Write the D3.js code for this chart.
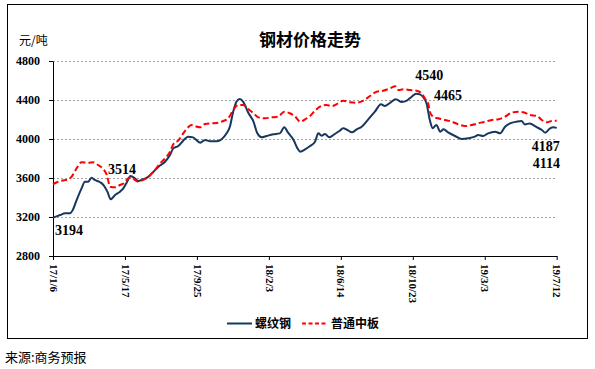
<!DOCTYPE html>
<html><head><meta charset="utf-8">
<script src="https://cdn.jsdelivr.net/npm/d3@7"></script>
<style>body{margin:0;background:#fff}svg{display:block}</style>
</head><body>
<svg id="c" width="595" height="369"></svg>
<script>
const rebarDates = ["2017-01-06","2017-01-19","2017-01-28","2017-02-06","2017-02-11","2017-02-18","2017-02-27","2017-03-05","2017-03-11","2017-03-17","2017-03-23","2017-04-02","2017-04-08","2017-04-15","2017-04-21","2017-04-29","2017-05-08","2017-05-14","2017-05-21","2017-05-27","2017-06-04","2017-06-10","2017-06-19","2017-06-27","2017-07-08","2017-07-17","2017-07-29","2017-08-07","2017-08-13","2017-08-22","2017-08-31","2017-09-09","2017-09-18","2017-10-01","2017-10-10","2017-10-19","2017-10-31","2017-11-09","2017-11-18","2017-11-24","2017-11-30","2017-12-06","2017-12-12","2017-12-18","2017-12-28","2018-01-06","2018-01-13","2018-01-21","2018-01-30","2018-02-11","2018-02-23","2018-03-03","2018-03-10","2018-03-20","2018-03-27","2018-04-01","2018-04-10","2018-04-19","2018-04-28","2018-05-04","2018-05-10","2018-05-16","2018-05-24","2018-06-03","2018-06-12","2018-06-18","2018-06-26","2018-07-04","2018-07-13","2018-07-22","2018-08-03","2018-08-15","2018-08-26","2018-09-02","2018-09-12","2018-09-22","2018-10-03","2018-10-12","2018-10-21","2018-10-29","2018-11-05","2018-11-11","2018-11-17","2018-11-23","2018-11-28","2018-12-05","2018-12-12","2018-12-18","2018-12-27","2019-01-08","2019-01-20","2019-02-01","2019-02-13","2019-02-19","2019-02-28","2019-03-09","2019-03-22","2019-03-31","2019-04-09","2019-04-18","2019-04-30","2019-05-09","2019-05-15","2019-05-24","2019-06-04","2019-06-15","2019-06-21","2019-06-30","2019-07-06","2019-07-12"];
const rebarValues = [3194,3220,3238,3238,3272,3374,3494,3562,3562,3603,3580,3556,3528,3460,3381,3426,3460,3494,3562,3620,3597,3569,3587,3607,3665,3716,3767,3836,3904,3928,3983,4024,4017,3962,3990,3976,3976,3997,4058,4126,4280,4383,4410,4383,4264,4178,4058,4017,4031,4048,4058,4120,4065,3990,3904,3870,3894,3928,3972,4058,4034,4051,4017,4051,4085,4110,4092,4068,4099,4126,4202,4280,4356,4338,4372,4407,4379,4393,4434,4465,4458,4428,4366,4195,4110,4143,4075,4099,4065,4031,4000,4007,4024,4041,4031,4058,4075,4058,4126,4160,4178,4185,4150,4160,4126,4092,4065,4110,4120,4114];

const plateDates = ["2017-01-06","2017-01-13","2017-01-22","2017-02-03","2017-02-09","2017-02-18","2017-02-27","2017-03-11","2017-03-20","2017-03-29","2017-04-08","2017-04-14","2017-04-20","2017-04-29","2017-05-08","2017-05-15","2017-05-23","2017-05-29","2017-06-04","2017-06-10","2017-06-19","2017-06-28","2017-07-08","2017-07-20","2017-07-31","2017-08-07","2017-08-14","2017-08-22","2017-08-31","2017-09-09","2017-09-15","2017-09-21","2017-10-01","2017-10-10","2017-10-22","2017-11-03","2017-11-12","2017-11-21","2017-11-30","2017-12-09","2017-12-18","2017-12-28","2018-01-06","2018-01-15","2018-01-27","2018-02-08","2018-02-20","2018-03-03","2018-03-13","2018-03-23","2018-04-01","2018-04-10","2018-04-19","2018-04-28","2018-05-07","2018-05-19","2018-05-28","2018-06-09","2018-06-18","2018-07-01","2018-07-13","2018-07-25","2018-08-06","2018-08-18","2018-08-30","2018-09-12","2018-09-21","2018-09-27","2018-10-06","2018-10-18","2018-10-30","2018-11-08","2018-11-14","2018-11-20","2018-11-23","2018-11-29","2018-12-08","2018-12-21","2019-01-02","2019-01-14","2019-01-26","2019-02-07","2019-02-19","2019-03-03","2019-03-16","2019-03-28","2019-04-09","2019-04-21","2019-05-03","2019-05-15","2019-05-24","2019-06-06","2019-06-15","2019-06-24","2019-07-03","2019-07-12"];
const plateValues = [3535,3556,3572,3587,3614,3699,3761,3757,3761,3733,3689,3631,3511,3504,3528,3546,3597,3607,3580,3562,3580,3607,3665,3750,3812,3870,3956,3983,4058,4120,4143,4133,4120,4154,4160,4167,4185,4212,4297,4349,4349,4305,4264,4222,4212,4222,4229,4280,4264,4229,4178,4202,4236,4290,4331,4349,4338,4366,4393,4376,4372,4393,4441,4485,4495,4520,4540,4502,4509,4502,4495,4468,4417,4366,4280,4229,4212,4195,4178,4150,4133,4143,4160,4178,4195,4202,4229,4270,4280,4270,4246,4236,4195,4171,4185,4187];

const yTicks = [2800,3200,3600,4000,4400,4800];
const xTickDates = ["2017-01-06","2017-05-17","2017-09-25","2018-02-03","2018-06-14","2018-10-23","2019-03-03","2019-07-12"];
const seriesNames = ["螺纹钢","普通中板"];
const annotations = [
  {series:0, date:"2017-01-06", text:"3194", dx:2, dy:17},
  {series:1, date:"2017-04-29", text:"3514", dx:-7, dy:-13},
  {series:1, date:"2018-09-21", text:"4540", dx:20, dy:-6},
  {series:0, date:"2018-10-29", text:"4465", dx:18, dy:6},
  {series:1, date:"2019-07-12", text:"4187", dx:-25, dy:30},
  {series:0, date:"2019-07-12", text:"4114", dx:-24, dy:40}
];

const parse = d3.timeParse("%Y-%m-%d");
const fmt = d3.timeFormat("%y/%-m/%-d");
const rebar = rebarDates.map((d,i)=>({date:parse(d), value:rebarValues[i]}));
const plate = plateDates.map((d,i)=>({date:parse(d), value:plateValues[i]}));
const series = [rebar, plate];

const svg = d3.select("#c");
const L = 53, R = 556.7, T = 61, B = 256;
const x = d3.scaleTime().domain([parse("2017-01-06"), parse("2019-07-12")]).range([L, R]);
const y = d3.scaleLinear().domain([2800,4800]).range([B, T]);

// frame
svg.append("rect").attr("x",7.5).attr("y",4.5).attr("width",580).attr("height",334)
  .attr("fill","none").attr("stroke","#000").attr("stroke-width",1);

// grid
svg.append("g").selectAll("line").data(yTicks.filter(v=>v>2800)).join("line")
  .attr("x1",L).attr("x2",R).attr("y1",d=>Math.round(y(d))+0.5).attr("y2",d=>Math.round(y(d))+0.5)
  .attr("stroke","#8a8a8a").attr("stroke-width",0.8).attr("stroke-dasharray","2,2");

// y axis
const yAxis = svg.append("g").attr("transform",`translate(${L},0)`)
  .call(d3.axisLeft(y).tickValues(yTicks).tickSize(4).tickSizeOuter(0).tickPadding(9).tickFormat(d3.format("d")));
yAxis.selectAll("text").attr("font-family","'Liberation Serif', serif").attr("font-weight","bold").attr("font-size","12px").attr("fill","#000");
yAxis.select(".domain").attr("stroke","#000");
yAxis.selectAll(".tick line").attr("stroke","#000");

// x axis
const xAxis = svg.append("g").attr("transform",`translate(0,${B})`)
  .call(d3.axisBottom(x).tickValues(xTickDates.map(parse)).tickSize(4).tickSizeOuter(0).tickFormat(fmt));
xAxis.select(".domain").attr("stroke","#000");
xAxis.selectAll(".tick line").attr("stroke","#000");
xAxis.selectAll("text")
  .attr("font-family","'Liberation Serif', serif").attr("font-weight","bold").attr("font-size","11px").attr("fill","#000")
  .attr("transform","rotate(90)").attr("text-anchor","start").attr("x",8).attr("y",0).attr("dy","0.35em");

// lines
const line = d3.line().x(d=>x(d.date)).y(d=>y(d.value)).curve(d3.curveMonotoneX);
svg.append("path").datum(rebar).attr("d",line).attr("fill","none")
  .attr("stroke","#17375E").attr("stroke-width",2).attr("stroke-linejoin","round");
svg.append("path").datum(plate).attr("d",line).attr("fill","none")
  .attr("stroke","#FF0000").attr("stroke-width",2).attr("stroke-dasharray","6,3");

// annotations
svg.append("g").selectAll("text").data(annotations).join("text")
  .attr("x",d=>{const p=series[d.series].find(e=>+e.date===+parse(d.date)); return x(p.date)+d.dx;})
  .attr("y",d=>{const p=series[d.series].find(e=>+e.date===+parse(d.date)); return y(p.value)+d.dy;})
  .attr("font-family","'Liberation Serif', serif").attr("font-weight","bold").attr("font-size","14px").attr("fill","#000")
  .text(d=>d.text);

// title and unit
svg.append("text").attr("x",310).attr("y",46).attr("text-anchor","middle")
  .attr("font-family","'Noto Sans CJK SC', sans-serif").attr("font-weight","bold").attr("font-size","17px").text("钢材价格走势");
svg.append("text").attr("x",19).attr("y",45)
  .attr("font-family","'Noto Sans CJK SC', sans-serif").attr("font-size","12px").text("元/吨");

// legend
const lg = svg.append("g");
lg.append("line").attr("x1",227).attr("x2",252).attr("y1",323.5).attr("y2",323.5).attr("stroke","#17375E").attr("stroke-width",2);
lg.append("text").attr("x",255).attr("y",328).attr("font-family","'Noto Sans CJK SC', sans-serif").attr("font-weight","bold").attr("font-size","12px").text(seriesNames[0]);
lg.append("line").attr("x1",302).attr("x2",328).attr("y1",323.5).attr("y2",323.5).attr("stroke","#FF0000").attr("stroke-width",2).attr("stroke-dasharray","4,2.5");
lg.append("text").attr("x",331).attr("y",328).attr("font-family","'Noto Sans CJK SC', sans-serif").attr("font-weight","bold").attr("font-size","12px").text(seriesNames[1]);

// source
svg.append("text").attr("x",5).attr("y",362).attr("font-family","'Noto Sans CJK SC', sans-serif").attr("font-size","13px").text("来源:商务预报");
</script>
</body></html>
